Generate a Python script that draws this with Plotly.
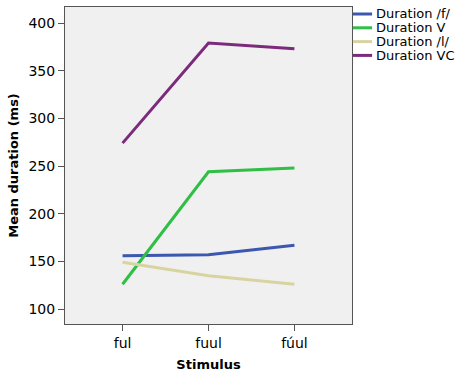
import plotly.graph_objects as go

stimuli = ["ful", "fuul", "fúul"]
dur_f = [156, 157, 167]
dur_v = [126, 244, 248]
dur_l = [149, 135, 126]
dur_vc = [274, 379, 373]

series = [
    ("Duration /f/", dur_f, "#3b57b0"),
    ("Duration V", dur_v, "#2fbf45"),
    ("Duration /l/", dur_l, "#d8d4a2"),
    ("Duration VC", dur_vc, "#7b2a7c"),
]

font = "DejaVu Sans"
M_L, M_R, M_T, M_B = 65, 110, 7, 48
H = 372
plot_h = H - M_T - M_B

fig = go.Figure()
for name, vals, color in series:
    fig.add_trace(go.Scatter(
        x=[0, 1, 2], y=vals, mode="lines", name=name,
        line=dict(color=color, width=3),
    ))

# compact legend: key line + label per series, stacked at the top right
for i, (name, _, color) in enumerate(series):
    yp = 1 - (7 + i * 13.8) / plot_h
    fig.add_shape(type="line", xref="paper", yref="paper",
                  x0=1.003, x1=1.07, y0=yp, y1=yp,
                  line=dict(color=color, width=3))
    fig.add_annotation(xref="paper", yref="paper", x=1.075, y=yp,
                       xanchor="left", yanchor="middle", showarrow=False,
                       text=name, font=dict(family=font, size=13, color="black"))

fig.update_layout(
    width=462, height=H,
    margin=dict(l=M_L, r=M_R, t=M_T, b=M_B, autoexpand=False),
    paper_bgcolor="white",
    plot_bgcolor="#f0f0f0",
    font=dict(family=font, size=14, color="black"),
    showlegend=False,
    xaxis=dict(
        range=[-0.67, 2.67], tickvals=[0, 1, 2], ticktext=stimuli,
        showgrid=False, zeroline=False, showline=True, mirror=True,
        linecolor="#555555", linewidth=1, ticks="outside", ticklen=6,
        tickcolor="#555555",
        title=dict(text="<b>Stimulus</b>", font=dict(family=font, size=13), standoff=10),
    ),
    yaxis=dict(
        range=[84.3, 416.8], tickvals=[100, 150, 200, 250, 300, 350, 400],
        showgrid=False, zeroline=False, showline=True, mirror=True,
        linecolor="#555555", linewidth=1, ticks="outside", ticklen=6,
        tickcolor="#555555",
        title=dict(text="<b>Mean duration (ms)</b>", font=dict(family=font, size=13), standoff=6),
    ),
)

fig.write_html("out.html")
